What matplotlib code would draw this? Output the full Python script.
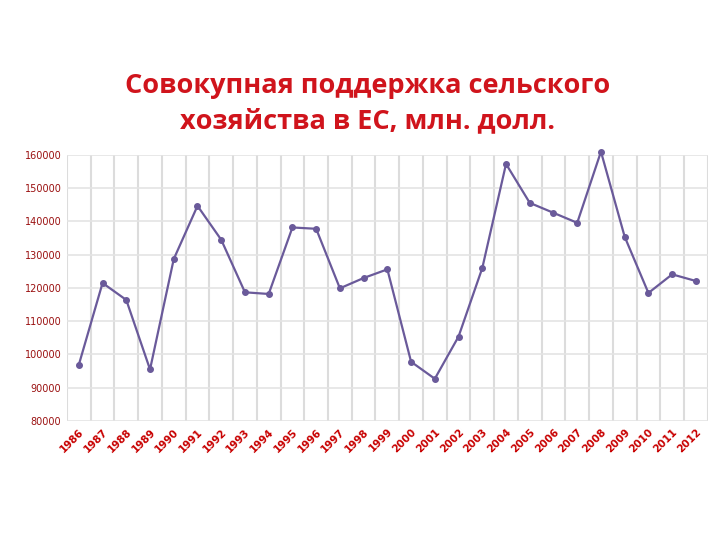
import matplotlib
matplotlib.use("Agg")
import matplotlib.pyplot as plt

years = [str(y) for y in range(1986, 2013)]
values = [96900, 121500, 116400, 95500, 128700, 144700, 134500, 118700, 118200,
          138200, 137800, 119900, 123000, 125600, 97800, 92700, 105400, 126000,
          157300, 145600, 142600, 139600, 161000, 135400, 118500, 124100, 122100]
yticks = list(range(80000, 160001, 10000))
title = "Совокупная поддержка сельского\nхозяйства в ЕС, млн. долл."

fig = plt.figure(figsize=(7.2, 5.4), dpi=100)
ax = fig.add_axes([0.093, 0.2204, 0.890, 0.4926])

x = list(range(len(years)))
ax.plot(x, values, color="#6A5A9A", linewidth=1.6, marker="o", markersize=4,
        markerfacecolor="#6A5A9A", markeredgecolor="#6A5A9A", clip_on=False, zorder=3)

ax.set_xlim(-0.5, len(years) - 0.5)
ax.set_ylim(80000, 160000)
ax.set_yticks(yticks)
ax.set_yticklabels([str(v) for v in yticks], color="#9A1010", fontsize=7,
                   family="DejaVu Sans")
ax.set_xticks(x)
ax.set_xticklabels(years, rotation=45, ha="right", rotation_mode="anchor",
                   color="#C80000", fontsize=7.5, fontweight="bold", family="DejaVu Sans")

for i in range(len(years) + 1):
    ax.axvline(i - 0.5, color="#DCDCDC", linewidth=1.5, zorder=1)
for v in yticks:
    ax.axhline(v, color="#E4E4E4", linewidth=1.2, zorder=1)

for s in ax.spines.values():
    s.set_visible(False)
ax.tick_params(axis="both", length=0, pad=4)
ax.tick_params(axis="x", pad=4)

fig.text(0.510, 0.808, title, ha="center", va="center", color="#D0141C",
         fontsize=19.5, fontweight="bold", family="Open Sans", linespacing=1.45)

fig.savefig("out.png", dpi=100, facecolor="white")
